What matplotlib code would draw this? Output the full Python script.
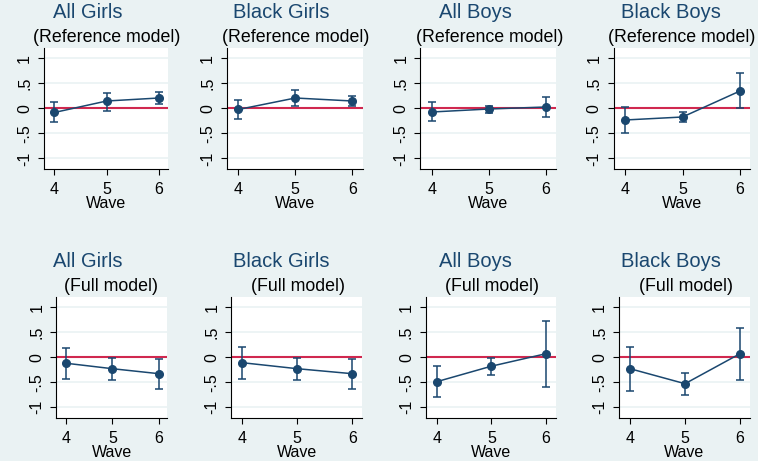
import matplotlib
matplotlib.use("Agg")
import matplotlib.pyplot as plt

plt.rcParams['font.family'] = ['Liberation Sans', 'DejaVu Sans']

BG = '#EAF2F3'
NAVY = '#1A476F'
RED = '#D0284F'

waves = [4, 5, 6]
groups = ['All Girls', 'Black Girls', 'All Boys', 'Black Boys']
models = ['(Reference model)', '(Full model)']

# point estimates and 95% CI bounds, rows = model, columns = group
est = [
    [[-0.08, 0.15, 0.21], [-0.02, 0.21, 0.15], [-0.07, -0.01, 0.03], [-0.23, -0.17, 0.35]],
    [[-0.12, -0.23, -0.33], [-0.11, -0.23, -0.33], [-0.49, -0.18, 0.07], [-0.23, -0.53, 0.07]],
]
lower = [
    [[-0.28, -0.05, 0.08], [-0.21, 0.05, 0.05], [-0.25, -0.10, -0.17], [-0.49, -0.27, 0.00]],
    [[-0.44, -0.45, -0.64], [-0.44, -0.45, -0.64], [-0.79, -0.36, -0.59], [-0.67, -0.76, -0.45]],
]
upper = [
    [[0.13, 0.31, 0.33], [0.16, 0.37, 0.25], [0.12, 0.05, 0.23], [0.03, -0.07, 0.71]],
    [[0.19, -0.01, -0.03], [0.20, -0.01, -0.03], [-0.17, -0.01, 0.73], [0.20, -0.31, 0.58]],
]
yticks = [-1, -0.5, 0, 0.5, 1]
ytick_labels = ['-1', '-.5', '0', '.5', '1']

W, H = 758, 461
XLIM = (3.8, 6.18)
YLIM = (-1.21, 1.21)

# layout in pixels: x of tick "4", x of tick "6", top and bottom of plot region
tick4 = [[54.3, 238.3, 431.7, 625.0], [65.7, 242.3, 436.7, 630.0]]
tick6 = [[159.0, 352.3, 546.0, 740.0], [159.0, 352.3, 546.0, 740.0]]
row_top = [48, 296.7]
row_bot = [169, 417.7]
title_x = [[88, 281.7, 475.7, 670.8], [88, 281.7, 475.7, 670.8]]
sub_x = [[107, 296, 489.7, 682], [111.5, 298, 492, 685.8]]
title_y = [18, 267]
sub_y = [42, 291]

fig = plt.figure(figsize=(W / 100, H / 100), dpi=100)
fig.patch.set_facecolor(BG)

for r in range(2):
    for c in range(4):
        ppu = (tick6[r][c] - tick4[r][c]) / 2
        left = tick4[r][c] - (4 - XLIM[0]) * ppu
        right = tick6[r][c] + (XLIM[1] - 6) * ppu
        ax = fig.add_axes([left / W, 1 - row_bot[r] / H,
                           (right - left) / W, (row_bot[r] - row_top[r]) / H])
        ax.set_facecolor('white')
        for y in yticks:
            ax.axhline(y, color=BG, lw=1.2, zorder=0)
        ax.axhline(0, color=RED, lw=1.5, zorder=1)
        e = est[r][c]
        lo = [e[i] - lower[r][c][i] for i in range(3)]
        hi = [upper[r][c][i] - e[i] for i in range(3)]
        ax.errorbar(waves, e, yerr=[lo, hi], fmt='-o', color=NAVY, ms=5.5,
                    lw=1.1, elinewidth=1.1, capsize=3, capthick=1.1, zorder=3)
        ax.set_xlim(*XLIM)
        ax.set_ylim(*YLIM)
        ax.set_xticks(waves)
        ax.set_xticklabels([str(w) for w in waves])
        ax.set_yticks(yticks)
        ax.set_yticklabels(ytick_labels, rotation=90, va='center')
        ax.tick_params(direction='out', length=4.5, width=0.8, labelsize=11.5,
                       pad=4, colors='black')
        ax.tick_params(axis='x', pad=5)
        for s in ['top', 'right']:
            ax.spines[s].set_visible(False)
        for s in ['left', 'bottom']:
            ax.spines[s].set_linewidth(0.8)
        ax.set_xlabel('Wave', fontsize=11.5, labelpad=-1)

        fig.text(title_x[r][c] / W, 1 - title_y[r] / H, groups[c],
                 ha='center', va='baseline', fontsize=14.5, color=NAVY)
        fig.text(sub_x[r][c] / W, 1 - sub_y[r] / H, models[r],
                 ha='center', va='baseline', fontsize=12.8, color='black')

fig.savefig('out.png', dpi=100, facecolor=BG)
